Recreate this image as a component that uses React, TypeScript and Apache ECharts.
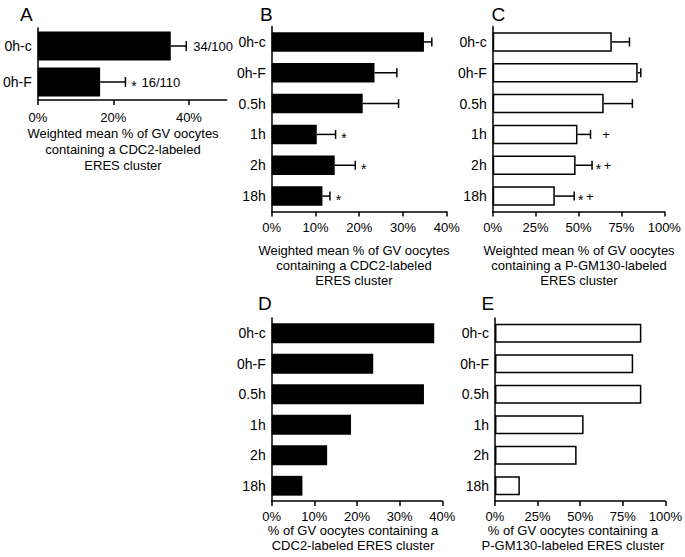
import React, { useEffect, useRef } from "react";
import * as echarts from "echarts";

const FONT = '"Liberation Sans", Arial, Helvetica, sans-serif';

// Panel A
const catsA = ["0h-c", "0h-F"];
const valA = [35.2, 16.5];
const errA = [39.3, 23.2];
const starsA = ["", "*"];
const countsA = ["34/100", "16/110"];
const ticksA = [0, 20, 40];

// Panels B–E
const cats = ["0h-c", "0h-F", "0.5h", "1h", "2h", "18h"];
const valB = [34.8, 23.5, 20.8, 10.3, 14.4, 11.6];
const errB = [36.6, 28.6, 29.0, 14.6, 19.1, 13.3];
const starsB = ["", "", "", "*", "*", "*"];

const valC = [69.4, 84.5, 64.7, 49.4, 48.3, 36.2];
const errC = [79.7, 86.3, 81.4, 57.0, 57.9, 47.5];
const starsC = ["", "", "", "", "*", "*"];
const plusC = ["", "", "", "+", "+", "+"];

const valD = [38.1, 23.8, 35.7, 18.6, 13.0, 7.2];
const valE = [85.9, 81.1, 85.9, 52.0, 47.9, 14.6];

const titleA = ["Weighted mean % of GV oocytes", "containing a CDC2-labeled", "ERES cluster"];
const titleB = ["Weighted mean % of GV oocytes", "containing a CDC2-labeled", "ERES cluster"];
const titleC = ["Weighted mean % of GV oocytes", "containing a P-GM130-labeled", "ERES cluster"];
const titleD = ["% of GV oocytes containing a", "CDC2-labeled ERES cluster"];
const titleE = ["% of GV oocytes containing a", "P-GM130-labeled ERES cluster"];

const INK = "#000";

function txt(text: string, x: number, y: number, size: number, align: string, valign: string) {
  return {
    type: "text",
    x,
    y,
    style: {
      text,
      fill: INK,
      textFill: INK,
      stroke: "none",
      font: `${size}px ${FONT}`,
      align,
      verticalAlign: valign,
      textAlign: align,
      textVerticalAlign: valign,
    },
  };
}

function errorRender(capHalf: number, stars: string[], plus: string[] | null, counts: string[] | null, starOff: number) {
  return (params: any, api: any) => {
    const v = api.value(0);
    const c = api.value(1);
    const e = api.value(2);
    const p0 = api.coord([v, c]);
    const p1 = api.coord([e, c]);
    const i = params.dataIndex;
    const st = { stroke: INK, lineWidth: 1.5, fill: "none" };
    const children: any[] = [
      { type: "line", shape: { x1: p0[0], y1: p0[1], x2: p1[0], y2: p1[1] }, style: st },
      { type: "line", shape: { x1: p1[0], y1: p1[1] - capHalf, x2: p1[0], y2: p1[1] + capHalf }, style: st },
    ];
    if (stars[i]) children.push(txt(stars[i], p1[0] + starOff, p1[1] + 3.5, 14, "center", "middle"));
    if (plus && plus[i]) children.push(txt(plus[i], p1[0] + 15.5, p1[1], 13, "center", "middle"));
    if (counts && counts[i]) {
      const x = p1[0] + (stars[i] ? 16 : 7);
      children.push(txt(counts[i], x, p1[1], 13, "left", "middle"));
    }
    return { type: "group", children };
  };
}

const axisLineStyle = { color: INK, width: 1.5 };
const labelStyle = { color: INK, fontSize: 13, fontFamily: FONT };

function xAx(idx: number, max: number, interval: number, margin: number, custom?: number[]) {
  const ax: any = {
    type: "value",
    gridIndex: idx,
    min: 0,
    max,
    interval,
    splitLine: { show: false },
    axisLine: { show: true, lineStyle: axisLineStyle },
    axisTick: { show: true, length: 5, lineStyle: axisLineStyle },
    axisLabel: { ...labelStyle, margin, formatter: (v: number) => `${v}%` },
  };
  if (custom) {
    ax.axisTick.customValues = custom;
    ax.axisLabel.customValues = custom;
  }
  return ax;
}

function yAx(idx: number, data: string[]) {
  return {
    type: "category",
    gridIndex: idx,
    data,
    inverse: true,
    axisLine: { show: true, lineStyle: axisLineStyle },
    axisTick: { show: false },
    axisLabel: { ...labelStyle, fontSize: 14, margin: 6 },
  };
}

function errData(vals: number[], errs: number[]) {
  return vals.map((v, i) => [v, i, errs[i]]);
}

export default function App() {
  const ref = useRef<HTMLDivElement>(null);
  useEffect(() => {
    if (!ref.current) return;
    const chart = echarts.init(ref.current, null, { renderer: "svg" });
    const blackBar = { color: INK };
    const whiteBar = { color: "#fff", borderColor: INK, borderWidth: 1.5 };

    const graphics: any[] = [
      txt("A", 20, 14, 19, "left", "middle"),
      txt("B", 260, 14, 19, "left", "middle"),
      txt("C", 491.5, 14, 19, "left", "middle"),
      txt("D", 258, 303.5, 19, "left", "middle"),
      txt("E", 481.5, 303.5, 19, "left", "middle"),
    ];
    titleA.forEach((t, i) => graphics.push(txt(t, 123, 133 + i * 16, 13, "center", "middle")));
    titleB.forEach((t, i) => graphics.push(txt(t, 354, 250 + i * 15, 13, "center", "middle")));
    titleC.forEach((t, i) => graphics.push(txt(t, 579, 250 + i * 15, 13, "center", "middle")));
    titleD.forEach((t, i) => graphics.push(txt(t, 353, 530 + i * 15, 13, "center", "middle")));
    titleE.forEach((t, i) => graphics.push(txt(t, 573, 530 + i * 15, 13, "center", "middle")));

    chart.setOption({
      animation: false,
      backgroundColor: "#fff",
      grid: [
        { left: 33.3, top: 28, width: 193.4, height: 72 },
        { left: 271.7, top: 26.5, width: 175, height: 185 },
        { left: 492.7, top: 26.5, width: 171.6, height: 185 },
        { left: 271.7, top: 318, width: 170.6, height: 183 },
        { left: 495, top: 318, width: 170.7, height: 183 },
      ],
      xAxis: [
        xAx(0, 50, 10, 11, ticksA),
        xAx(1, 40, 10, 9),
        xAx(2, 100, 25, 9),
        xAx(3, 40, 10, 9),
        xAx(4, 100, 25, 9),
      ],
      yAxis: [yAx(0, catsA), yAx(1, cats), yAx(2, cats), yAx(3, cats), yAx(4, cats)],
      graphic: graphics,
      series: [
        { type: "bar", xAxisIndex: 0, yAxisIndex: 0, data: valA, barWidth: "80%", itemStyle: blackBar },
        { type: "bar", xAxisIndex: 1, yAxisIndex: 1, data: valB, barWidth: "63%", itemStyle: blackBar },
        { type: "bar", xAxisIndex: 2, yAxisIndex: 2, data: valC, barWidth: "63%", itemStyle: whiteBar },
        { type: "bar", xAxisIndex: 3, yAxisIndex: 3, data: valD, barWidth: "65%", itemStyle: blackBar },
        { type: "bar", xAxisIndex: 4, yAxisIndex: 4, data: valE, barWidth: "63%", itemStyle: whiteBar },
        {
          type: "custom", xAxisIndex: 0, yAxisIndex: 0, z: 5,
          encode: { x: [0, 2], y: 1 },
          data: errData(valA, errA),
          renderItem: errorRender(5, starsA, null, countsA, 8.5),
        },
        {
          type: "custom", xAxisIndex: 1, yAxisIndex: 1, z: 5,
          encode: { x: [0, 2], y: 1 },
          data: errData(valB, errB),
          renderItem: errorRender(4.5, starsB, null, null, 8.5),
        },
        {
          type: "custom", xAxisIndex: 2, yAxisIndex: 2, z: 5,
          encode: { x: [0, 2], y: 1 },
          data: errData(valC, errC),
          renderItem: errorRender(4.5, starsC, plusC, null, 6.5),
        },
      ],
    });
    return () => chart.dispose();
  }, []);
  return (
    <div
      ref={ref}
      style={{ position: "absolute", left: 0, top: 0, width: 685, height: 557, background: "#fff" }}
    />
  );
}
